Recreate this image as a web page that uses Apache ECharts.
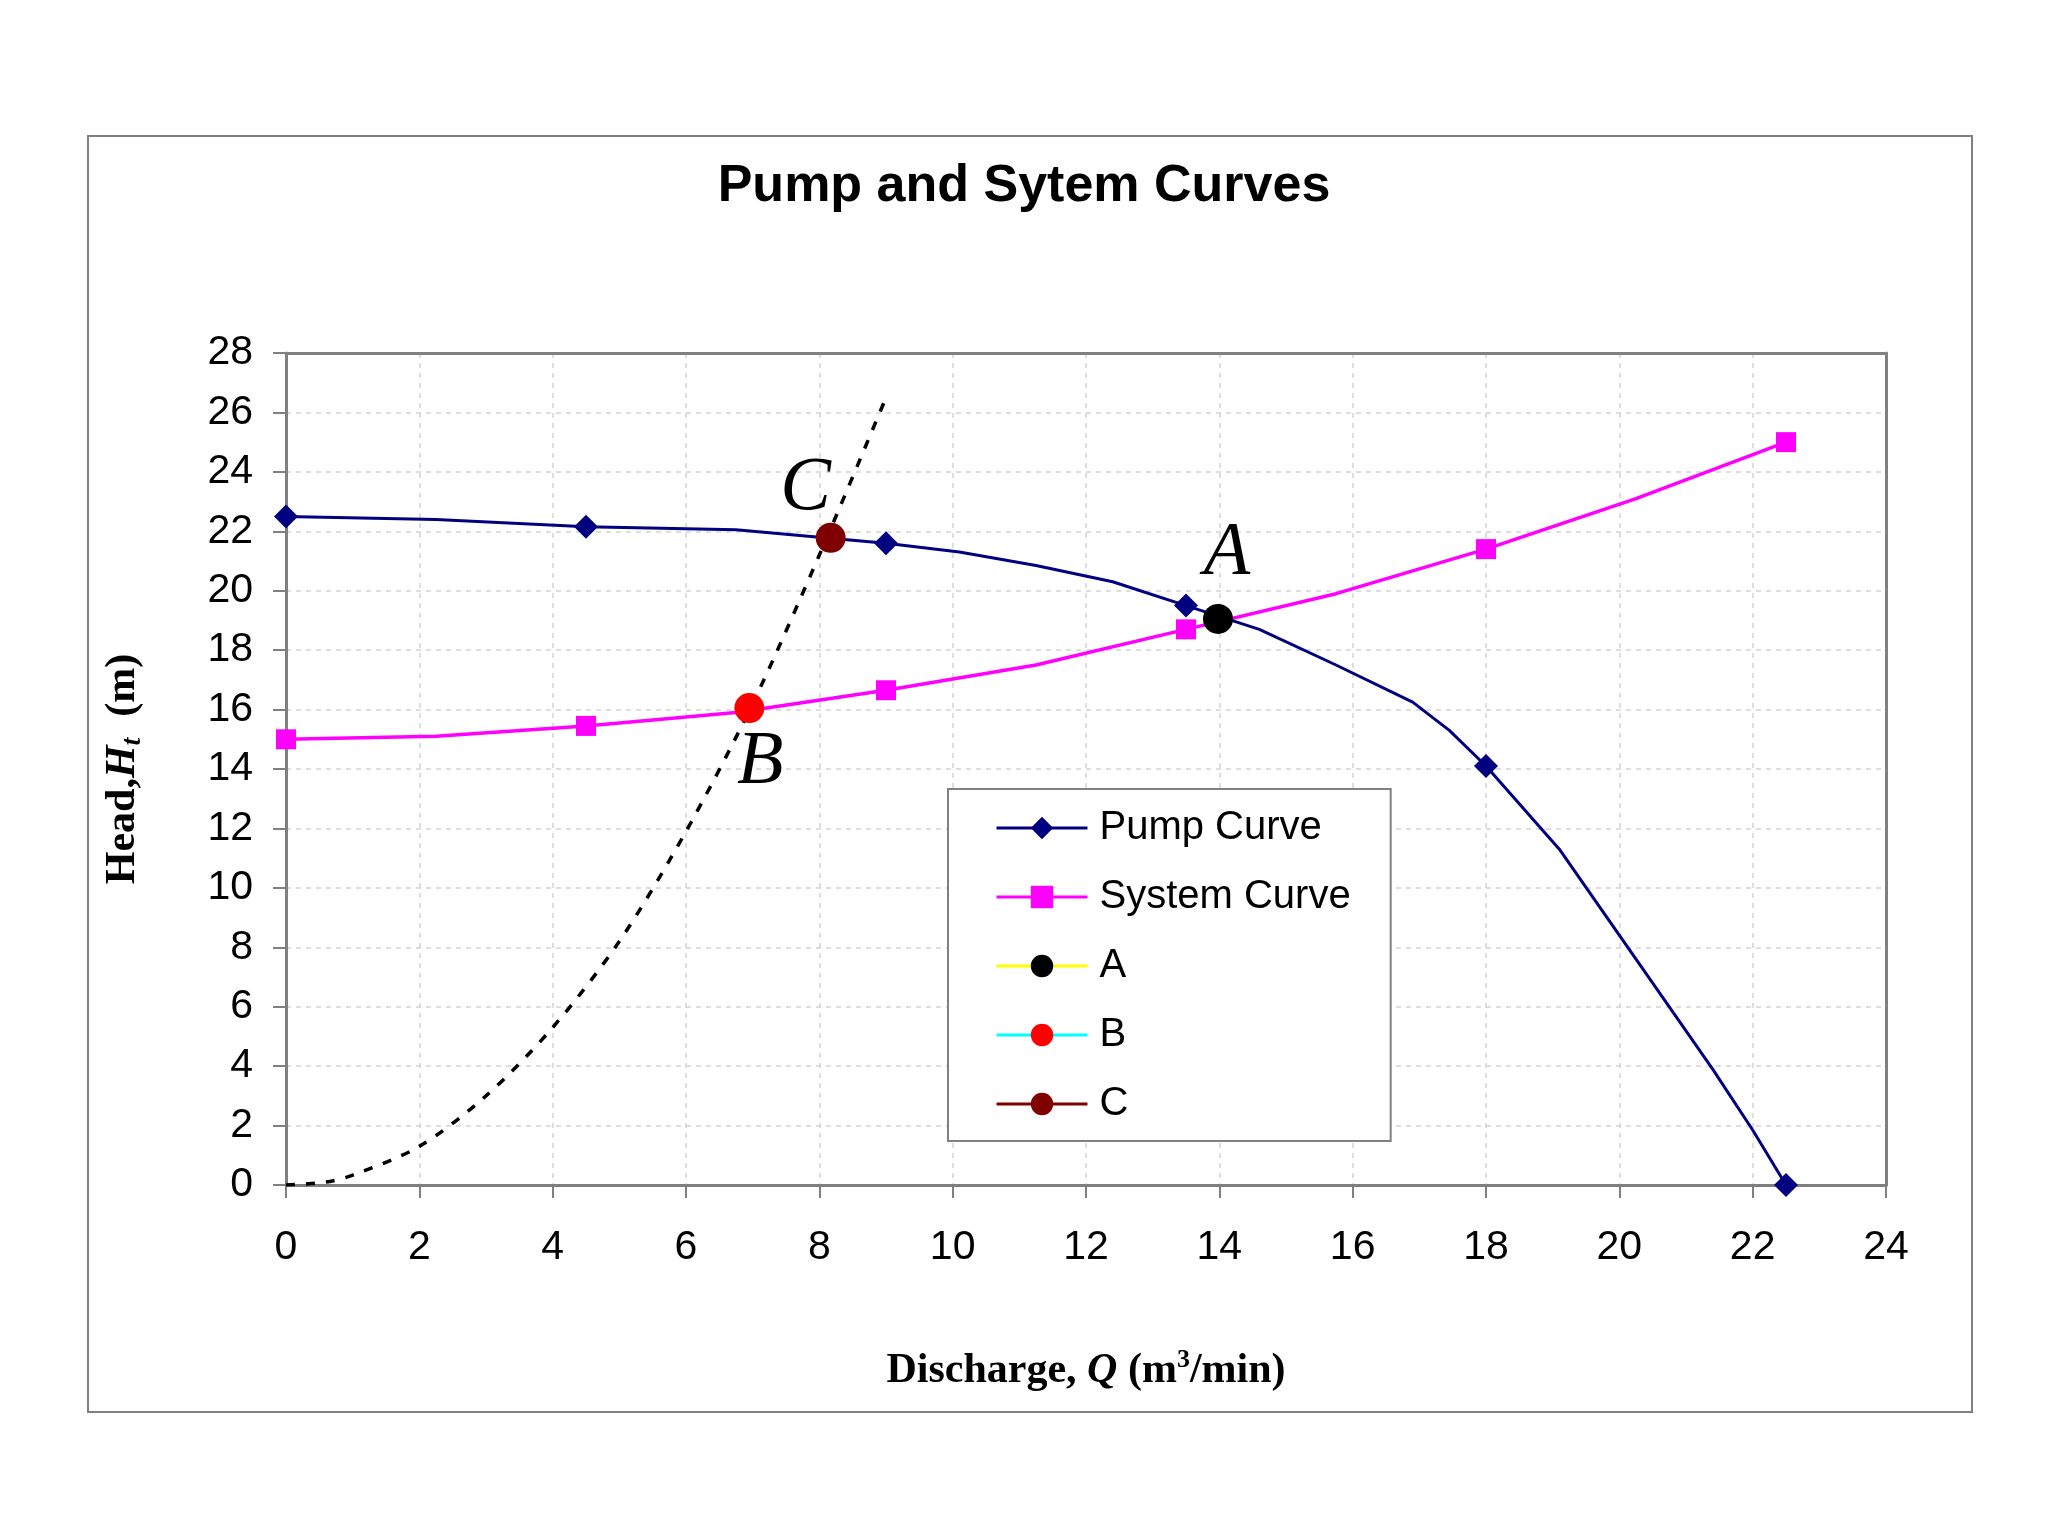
<!DOCTYPE html>
<html><head><meta charset="utf-8">
<script src="https://cdn.jsdelivr.net/npm/echarts@6/dist/echarts.min.js"></script>
<style>html,body{margin:0;padding:0;background:#fff}#c{width:2048px;height:1536px}</style>
</head><body><div id="c"></div>
<script>
// ---- data ----
const pumpQ = [0, 2.25, 4.5, 6.75, 9, 10.1, 11.25, 12.4, 13.5, 14.6, 15.75, 16.9, 17.45, 18, 19.1, 20.25, 21.4, 22.0, 22.5];
const pumpH = [22.5, 22.4, 22.15, 22.05, 21.6, 21.3, 20.85, 20.3, 19.5, 18.7, 17.5, 16.25, 15.3, 14.1, 11.3, 7.6, 3.9, 1.85, 0];
const pumpMarked = [0, 2, 4, 8, 13, 18];

const systemQ = [0, 2.25, 4.5, 6.75, 9, 11.25, 13.5, 15.75, 18, 20.25, 22.5];
const systemH = [15.0, 15.1, 15.45, 15.9, 16.65, 17.5, 18.7, 19.9, 21.4, 23.1, 25.0];
const systemMarked = [0, 2, 4, 6, 8, 10];

const trialQ = [0, 0.6, 1, 2, 3, 4, 5, 6, 7, 8, 9];
const trialH = [0, 0.1, 0.33, 1.3, 3.0, 5.3, 8.2, 11.9, 16.2, 21.2, 26.5];

const pointNames = ['A', 'B', 'C'];
const pointQ = [13.98, 6.95, 8.17];
const pointH = [19.05, 16.05, 21.78];

const legendNames = ['Pump Curve', 'System Curve', 'A', 'B', 'C'];
const xMin = 0, xMax = 24, xStep = 2;
const yMin = 0, yMax = 28, yStep = 2;

// ---- styles ----
const pointMarker = ['#000000', '#ff0000', '#800000'];
const pointLine = ['#ffff00', '#00ffff', '#800000'];
const pointLabelOffset = [[9, -65], [11, 55], [-25, -49]];
const SANS = 'Liberation Sans', SERIF = 'Liberation Serif';
const GRAY = '#808080';

const chart = echarts.init(document.getElementById('c'), null, {renderer: 'canvas'});

const pumpData = pumpQ.map((q, i) => ({value: [q, pumpH[i]], symbol: pumpMarked.includes(i) ? 'diamond' : 'none'}));
const systemData = systemQ.map((q, i) => ({value: [q, systemH[i]], symbol: systemMarked.includes(i) ? 'rect' : 'none'}));
const trialData = trialQ.map((q, i) => [q, trialH[i]]);

const pointSeries = pointNames.map((n, i) => ({
  name: n, type: 'line', data: [[pointQ[i], pointH[i]]],
  symbol: 'circle', symbolSize: 30, z: 5,
  itemStyle: {color: pointMarker[i]},
  lineStyle: {color: pointLine[i], width: 3},
  label: {show: true, formatter: n, position: 'inside', offset: pointLabelOffset[i],
          fontFamily: SERIF, fontStyle: 'italic', fontSize: 76, color: '#000'}
}));

const axisNameRich = {
  b: {fontFamily: SERIF, fontWeight: 'bold', fontSize: 42, color: '#000', lineHeight: 48},
  i: {fontFamily: SERIF, fontWeight: 'bold', fontStyle: 'italic', fontSize: 42, color: '#000', lineHeight: 48},
  s: {fontFamily: SERIF, fontWeight: 'bold', fontStyle: 'italic', fontSize: 28, color: '#000', lineHeight: 28, verticalAlign: 'bottom'},
  p: {fontFamily: SERIF, fontWeight: 'bold', fontSize: 26, color: '#000', lineHeight: 26, verticalAlign: 'top'}
};

const splitStyle = {show: true, lineStyle: {color: '#d4d4d4', width: 1.5, type: [5, 5]}};
const frameAxis = (pos, min, max) => ({
  type: 'value', position: pos, min: min, max: max,
  axisLine: {show: true, onZero: false, lineStyle: {color: GRAY, width: 3}},
  axisTick: {show: false}, axisLabel: {show: false}, splitLine: {show: false}
});

const option = {
  animation: false,
  backgroundColor: '#fff',
  title: {
    text: 'Pump and Sytem Curves', left: 'center', top: 156,
    textStyle: {fontFamily: SANS, fontWeight: 'bold', fontSize: 52, color: '#000'}
  },
  graphic: [{
    type: 'rect', z: -10, silent: true,
    shape: {x: 88, y: 136, width: 1884, height: 1276},
    style: {fill: 'none', stroke: GRAY, lineWidth: 2}
  }],
  grid: {left: 286, right: 162, top: 353, bottom: 351},
  legend: {
    orient: 'vertical', left: 948, top: 789,
    padding: [19, 40, 17, 47],
    itemWidth: 91, itemHeight: 28, itemGap: 29,
    borderColor: GRAY, borderWidth: 2, backgroundColor: '#fff',
    lineStyle: {width: 3},
    textStyle: {fontFamily: SANS, fontSize: 40, color: '#000', lineHeight: 40, padding: [0, 0, 0, 7]},
    data: legendNames
  },
  xAxis: [{
    type: 'value', min: xMin, max: xMax, interval: xStep,
    axisLine: {show: true, onZero: false, lineStyle: {color: GRAY, width: 3}},
    axisTick: {show: true, length: 13, lineStyle: {color: GRAY, width: 2}},
    axisLabel: {fontFamily: SANS, fontSize: 41, color: '#000', margin: 42},
    splitLine: splitStyle,
    name: '{b|Discharge, }{i|Q}{b| (m}{p|3}{b|/min)}',
    nameLocation: 'middle', nameGap: 162,
    nameTextStyle: {rich: axisNameRich}
  }, frameAxis('top', xMin, xMax)],
  yAxis: [{
    type: 'value', min: yMin, max: yMax, interval: yStep,
    axisLine: {show: true, onZero: false, lineStyle: {color: GRAY, width: 3}},
    axisTick: {show: true, length: 13, lineStyle: {color: GRAY, width: 2}},
    axisLabel: {fontFamily: SANS, fontSize: 41, color: '#000', margin: 33},
    splitLine: splitStyle,
    name: '{b|Head,}{i|H}{s|t}{b|  (m)}',
    nameLocation: 'middle', nameGap: 139, nameRotate: 90,
    nameTextStyle: {rich: axisNameRich}
  }, frameAxis('right', yMin, yMax)],
  series: [
    {name: 'trial', type: 'line', data: trialData, symbol: 'none', smooth: 0.3, z: 2,
     lineStyle: {color: '#000', width: 3.5, type: [9, 11]}},
    {name: 'System Curve', type: 'line', data: systemData, symbol: 'rect', symbolSize: 20, z: 3,
     itemStyle: {color: '#ff00ff'}, lineStyle: {color: '#ff00ff', width: 3.5}},
    {name: 'Pump Curve', type: 'line', data: pumpData, symbol: 'diamond', symbolSize: 24, z: 4,
     itemStyle: {color: '#000080'}, lineStyle: {color: '#000080', width: 3}},
    ...pointSeries
  ]
};
chart.setOption(option);
</script></body></html>
